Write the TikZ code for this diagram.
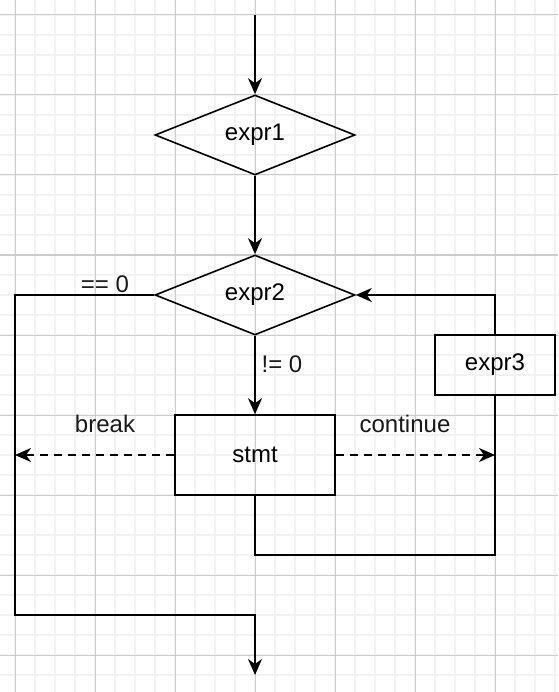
\documentclass[tikz,border=0pt]{standalone}
\usepackage{fontspec}
\setmainfont{Liberation Sans}
\usetikzlibrary{shapes.geometric,arrows.meta}
\begin{document}
\begin{tikzpicture}[x=1pt,y=-1pt,
  line width=1.6pt,
  tip/.style={-{Stealth[length=16pt,width=14pt,inset=5pt]}},
  decision/.style={draw,diamond,aspect=2.5,minimum width=200pt,minimum height=80pt,inner sep=0pt,font=\fontsize{24}{28}\selectfont},
  block/.style={draw,rectangle,inner sep=0pt,font=\fontsize{24}{28}\selectfont},
  lbl/.style={font=\fontsize{24}{28}\selectfont,inner sep=0pt,text=black!90},
  flow/.style={line width=1.6pt,tip},
  jump/.style={line width=1.6pt,tip,dash pattern=on 8pt off 6pt}]
  % page and background grid
  \useasboundingbox (0,0) rectangle (558,692);
  \fill[white] (0,0) rectangle (558,692);
  \foreach \k in {0,...,27} \draw[line width=2pt,color=black!5] (15+20*\k,0) -- (15+20*\k,692);
  \foreach \k in {0,...,33} \draw[line width=2pt,color=black!5] (0,15+20*\k) -- (558,15+20*\k);
  \foreach \k in {0,...,6} \draw[line width=1pt,color=black!20] (15+80*\k,0) -- (15+80*\k,692);
  \foreach \k in {0,...,8} \draw[line width=1pt,color=black!20] (0,15+80*\k) -- (558,15+80*\k);

  % nodes
  \node[decision] (e1) at (255,135) {expr1};
  \node[decision] (e2) at (255,295) {expr2};
  \node[block,minimum width=160pt,minimum height=80pt] (st) at (255,455) {stmt};
  \node[block,minimum width=120pt,minimum height=60pt] (e3) at (495,365) {expr3};

  \coordinate (in) at (255,15);
  \coordinate (out) at (255,675);
  \coordinate (brk) at (15,455);
  \coordinate (cnt) at (495,455);

  % connectors
  \draw[flow] (in) -- (e1.north);
  \draw[flow] (e1.south) -- (e2.north);
  \draw[flow] (e2.south) -- (st.north);
  \draw[flow] (e2.west) -- (15,295) -- (15,615) -- (255,615) -- (out);
  \draw (st.south) -- (255,555) -- (495,555) -- (e3.south);
  \draw[flow] (e3.north) -- (495,295) -- (e2.east);
  \draw[jump] (st.west) -- (brk);
  \draw[jump] (st.east) -- (cnt);

  % labels
  \node[lbl] (l0) at (105,284) {== 0};
  \node[lbl] (l1) at (282,364) {!= 0};
  \node[lbl] (lb) at (105,424) {break};
  \node[lbl] (lc) at (405,424) {continue};
\end{tikzpicture}
\end{document}
